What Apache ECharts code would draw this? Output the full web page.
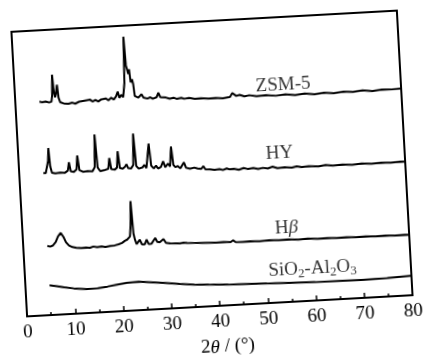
<!DOCTYPE html>
<html>
<head>
<meta charset="utf-8">
<script src="https://cdn.jsdelivr.net/npm/echarts@6/dist/echarts.min.js"></script>
<style>
html,body{margin:0;padding:0;background:#fff;overflow:hidden;}
#c{width:424px;height:356px;transform:rotate(-3.15deg);transform-origin:212px 164px;}
</style>
</head>
<body>
<div id="c"></div>
<script>
// x ticks (2θ / °)
const xTicks = [0, 10, 20, 30, 40, 50, 60, 70, 80];
// series names and label anchor [2θ, offset intensity]
const seriesNames = ['ZSM-5', 'HY', 'Hβ', 'SiO2-Al2O3'];
const labelPos = [[55.6, 76.2], [54.1, 52.1], [54.7, 26.0], [59.6, 11.2]];

// offset intensities (a.u.)
const zsm5 = [
[5.0,75.0],[5.6,74.7],[6.3,74.9],[7.0,74.5],[7.5,74.8],[7.7,77.0],[7.9,84.2],[8.1,78.0],[8.3,76.2],[8.5,77.5],[8.8,80.6],[9.0,76.0],[9.3,74.4],[10.0,73.9],[11.0,73.7],[11.8,74.0],[12.4,73.6],[13.2,74.2],[13.6,73.7],[14.0,74.4],[14.4,73.8],[14.8,74.6],[15.2,73.9],[15.5,74.7],[16.0,74.0],[16.6,74.5],[17.2,73.9],[17.8,74.6],[18.2,74.0],[18.8,74.8],[19.3,74.1],[19.9,75.0],[20.4,74.3],[20.9,75.3],[21.3,77.0],[21.6,74.8],[22.0,75.8],[22.4,75.0],[22.8,80.0],[23.1,96.1],[23.3,86.0],[23.45,85.8],[23.7,83.0],[23.9,84.6],[24.1,80.0],[24.4,81.1],[24.6,79.3],[24.8,75.1],[25.2,75.8],[25.5,74.5],[25.9,75.2],[26.2,75.6],[26.6,74.4],[27.0,74.2],[27.4,74.0],[28.0,74.4],[28.5,73.8],[29.3,74.3],[29.7,75.8],[30.1,74.2],[30.5,73.8],[31.2,74.0],[32.0,73.5],[32.8,73.8],[33.5,73.3],[34.4,73.6],[35.0,73.2],[36.0,73.4],[37.2,73.0],[38.5,73.1],[40.0,72.8],[41.5,72.9],[43.0,72.6],[44.5,73.0],[45.0,74.3],[45.4,74.6],[45.8,73.2],[46.5,73.5],[47.5,72.9],[48.5,73.2],[50.0,72.7],[52.0,72.9],[54.0,72.5],[56.0,72.8],[58.0,72.4],[60.0,72.7],[62.0,72.3],[64.0,72.6],[66.0,72.3],[68.0,72.6],[70.0,72.4],[72.0,72.7],[74.0,72.3],[76.0,72.6],[78.0,72.5],[80.0,72.6]
];
const hy = [
[5.0,49.9],[5.5,49.8],[5.9,50.2],[6.1,54.0],[6.3,58.6],[6.5,52.0],[6.8,49.8],[7.5,49.6],[8.5,49.7],[9.5,49.6],[10.1,50.3],[10.4,53.2],[10.7,50.0],[11.3,49.7],[11.9,50.5],[12.2,55.4],[12.5,50.2],[13.2,49.6],[14.2,49.7],[15.2,49.6],[15.7,51.0],[16.0,62.4],[16.3,50.8],[16.8,49.5],[17.6,49.7],[18.5,50.2],[18.8,53.9],[19.1,50.0],[19.8,49.7],[20.3,50.4],[20.6,56.1],[20.9,50.2],[21.5,49.9],[22.0,50.6],[22.3,51.4],[22.6,50.0],[23.2,49.8],[23.7,51.0],[24.0,62.0],[24.3,50.6],[24.8,49.6],[25.6,50.0],[26.0,50.8],[26.4,49.7],[26.8,50.4],[27.1,58.2],[27.4,50.4],[27.9,49.4],[28.4,50.3],[28.8,49.3],[29.4,49.8],[29.9,51.7],[30.3,49.6],[30.9,50.8],[31.3,49.8],[31.7,56.7],[32.0,50.2],[32.4,49.4],[32.9,49.8],[33.4,48.9],[34.2,50.9],[34.6,49.0],[35.4,48.6],[36.3,48.9],[37.0,48.5],[37.7,48.3],[38.2,49.2],[38.6,48.1],[39.5,48.0],[40.5,47.7],[41.5,47.9],[42.2,47.5],[43.0,48.0],[43.6,47.6],[44.5,47.7],[45.5,47.3],[46.5,47.8],[47.3,47.4],[48.5,47.6],[49.5,47.2],[50.5,47.5],[51.5,47.2],[52.5,47.7],[53.5,47.1],[55.0,47.3],[56.5,47.0],[57.5,47.4],[58.5,47.0],[60.0,47.2],[62.0,46.9],[63.5,47.3],[65.0,46.9],[67.0,47.1],[69.0,46.8],[71.0,47.1],[73.0,46.8],[75.0,47.0],[77.0,46.8],[79.0,47.0],[80.0,46.9]
];
const hbeta = [
[5.0,24.3],[5.6,24.0],[6.2,24.4],[6.8,25.6],[7.3,27.4],[7.9,28.6],[8.4,27.2],[8.9,25.2],[9.5,24.0],[10.2,23.4],[11.0,23.1],[12.0,22.9],[13.0,23.0],[13.8,22.8],[14.5,23.2],[15.3,22.9],[16.2,23.1],[17.0,22.8],[18.0,23.1],[19.0,23.2],[19.8,23.5],[20.5,23.9],[21.1,24.6],[21.6,25.0],[22.2,26.0],[22.45,30.0],[22.7,38.4],[22.95,27.0],[23.2,24.8],[23.5,23.2],[23.9,23.1],[24.2,24.7],[24.6,23.0],[25.2,23.0],[25.6,24.6],[26.0,23.0],[26.6,23.1],[27.0,23.6],[27.4,25.0],[27.8,23.6],[28.3,23.4],[28.7,24.0],[29.1,24.5],[29.6,23.1],[30.5,22.8],[31.5,22.7],[32.5,22.6],[33.2,22.8],[33.6,23.2],[34.0,22.6],[35.5,22.5],[37.0,22.4],[38.5,22.3],[40.0,22.2],[41.5,22.3],[43.0,22.1],[43.5,22.7],[44.0,22.0],[45.5,21.9],[47.0,22.0],[49.0,21.8],[51.0,22.0],[53.0,21.8],[55.0,21.9],[57.0,21.7],[59.0,21.8],[61.0,21.6],[63.0,21.7],[65.0,21.5],[67.0,21.6],[69.0,21.4],[71.0,21.5],[73.0,21.3],[75.0,21.4],[77.0,21.2],[79.0,21.3],[80.0,21.2]
];
const sialo = [
[5.0,10.4],[6.5,10.0],[8.0,9.5],[10.0,8.9],[12.6,8.4],[15.0,8.5],[17.0,8.9],[19.0,9.4],[21.0,9.8],[23.5,10.0],[26.0,9.6],[29.0,9.0],[32.0,8.4],[35.0,7.9],[38.0,7.6],[42.0,7.3],[46.0,7.1],[50.0,6.9],[55.0,6.7],[60.0,6.5],[65.0,6.4],[70.0,6.3],[75.0,6.5],[80.0,6.8]
];

const FONT = 'Liberation Serif';
const FS = 19;
const traces = [zsm5, hy, hbeta, sialo];
const labelText = ['ZSM-5', 'HY', '{a|H}{i|β}', '{a|SiO}{s|2}{a|-Al}{s|2}{a|O}{s|3}'];

const chart = echarts.init(document.getElementById('c'), null, {renderer: 'canvas'});
const series = traces.map((d, i) => ({
  name: seriesNames[i], type: 'line', data: d, showSymbol: false, symbol: 'none',
  lineStyle: {color: '#000', width: 2}, smooth: false, silent: true, z: 3
}));
series.push({
  type: 'scatter', symbolSize: 0, silent: true, z: 5,
  data: labelPos.map((p, i) => ({value: p, label: {formatter: labelText[i]}})),
  label: {
    show: true, position: 'inside', color: '#000', fontFamily: FONT, fontSize: FS,
    rich: {
      a: {fontFamily: FONT, fontSize: FS, color: '#000'},
      i: {fontFamily: FONT, fontSize: FS, fontStyle: 'italic', color: '#000'},
      s: {fontFamily: FONT, fontSize: 13, color: '#000', padding: [9, 0, 0, 0]}
    }
  }
});

chart.setOption({
  animation: false,
  backgroundColor: '#fff',
  grid: {left: 19, right: 19, top: 21, bottom: 50, containLabel: false, outerBoundsMode: 'none',
    show: true, borderColor: '#000', borderWidth: 2},
  xAxis: {
    type: 'value', min: xTicks[0], max: xTicks[xTicks.length - 1], interval: 10,
    axisLine: {show: true, lineStyle: {color: '#000', width: 2}},
    axisTick: {show: true, inside: true, length: 5, lineStyle: {color: '#000', width: 1.5}},
    minorTick: {show: true, splitNumber: 2, length: 3, lineStyle: {color: '#000', width: 1.5}},
    splitLine: {show: false},
    axisLabel: {color: '#000', fontFamily: FONT, fontSize: FS, margin: 7,
      formatter: v => xTicks.includes(v) ? String(v) : ''},
    name: '{a|2}{i|θ}{a| / (°)}', nameLocation: 'middle', nameGap: 32,
    nameTextStyle: {padding: [0, 0, 0, 12],
      rich: {a: {fontFamily: FONT, fontSize: FS, color: '#000'},
             i: {fontFamily: FONT, fontSize: FS, fontStyle: 'italic', color: '#000'}}}
  },
  yAxis: {type: 'value', min: 0, max: 100, show: false},
  series: series
});
</script>
</body>
</html>
